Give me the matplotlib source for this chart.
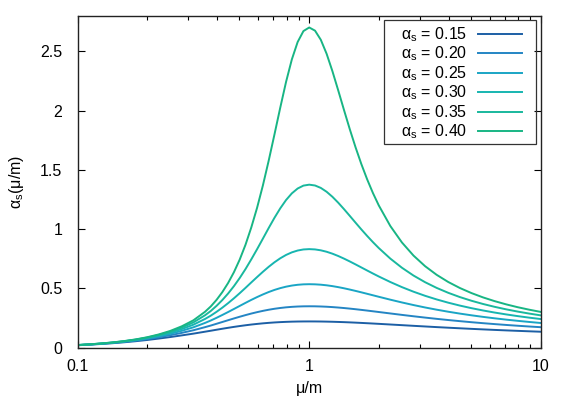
import matplotlib
matplotlib.use("Agg")
import matplotlib.pyplot as plt
from matplotlib.patches import Rectangle

plt.rcParams['font.family'] = ['Liberation Sans', 'DejaVu Sans']
plt.rcParams['mathtext.fontset'] = 'custom'
plt.rcParams['mathtext.rm'] = 'Liberation Sans'

# Data
mu = [0.1000, 0.1122, 0.1259, 0.1413, 0.1585, 0.1778, 0.1995, 0.2239, 0.2512, 0.2818,
      0.3162, 0.3548, 0.3758, 0.3981, 0.4217, 0.4467, 0.4732, 0.5012, 0.5309, 0.5623,
      0.5957, 0.6310, 0.6683, 0.7079, 0.7499, 0.7943, 0.8414, 0.8913, 0.9441, 1.0000,
      1.0593, 1.1220, 1.1885, 1.2589, 1.3335, 1.4125, 1.4962, 1.5849, 1.6788, 1.7783,
      1.8836, 1.9953, 2.2387, 2.5119, 2.8184, 3.1623, 3.5481, 3.9811, 4.4668, 5.0119,
      5.6234, 6.3096, 7.0795, 7.9433, 8.9125, 10.000]

alpha_015 = [0.0193, 0.0241, 0.0298, 0.0364, 0.0442, 0.0532, 0.0636, 0.0756, 0.0885, 0.1026,
             0.1173, 0.1336, 0.1418, 0.1503, 0.1586, 0.1666, 0.1743, 0.1814, 0.1880, 0.1941,
             0.1994, 0.2042, 0.2083, 0.2118, 0.2146, 0.2168, 0.2185, 0.2196, 0.2202, 0.2204,
             0.2202, 0.2197, 0.2188, 0.2176, 0.2161, 0.2144, 0.2124, 0.2102, 0.2078, 0.2053,
             0.2027, 0.2000, 0.1945, 0.1889, 0.1833, 0.1779, 0.1725, 0.1674, 0.1625, 0.1577,
             0.1532, 0.1488, 0.1447, 0.1408, 0.1370, 0.1334]
alpha_020 = [0.0200, 0.0251, 0.0314, 0.0387, 0.0477, 0.0584, 0.0712, 0.0865, 0.1038, 0.1238,
             0.1459, 0.1719, 0.1857, 0.2006, 0.2157, 0.2307, 0.2456, 0.2600, 0.2738, 0.2869,
             0.2988, 0.3096, 0.3191, 0.3273, 0.3340, 0.3395, 0.3435, 0.3463, 0.3479, 0.3484,
             0.3480, 0.3466, 0.3445, 0.3415, 0.3378, 0.3335, 0.3287, 0.3235, 0.3179, 0.3121,
             0.3061, 0.3000, 0.2878, 0.2757, 0.2640, 0.2528, 0.2422, 0.2322, 0.2228, 0.2139,
             0.2057, 0.1979, 0.1907, 0.1839, 0.1775, 0.1716]
alpha_025 = [0.0204, 0.0257, 0.0324, 0.0403, 0.0501, 0.0620, 0.0766, 0.0946, 0.1158, 0.1413,
             0.1708, 0.2076, 0.2281, 0.2509, 0.2750, 0.2999, 0.3255, 0.3514, 0.3771, 0.4023,
             0.4261, 0.4483, 0.4686, 0.4865, 0.5016, 0.5139, 0.5233, 0.5298, 0.5336, 0.5348,
             0.5337, 0.5306, 0.5255, 0.5186, 0.5101, 0.5004, 0.4896, 0.4781, 0.4661, 0.4537,
             0.4412, 0.4287, 0.4041, 0.3807, 0.3587, 0.3383, 0.3196, 0.3024, 0.2866, 0.2722,
             0.2589, 0.2468, 0.2356, 0.2254, 0.2159, 0.2071]
alpha_030 = [0.0207, 0.0262, 0.0331, 0.0414, 0.0518, 0.0647, 0.0808, 0.1010, 0.1255, 0.1560,
             0.1928, 0.2409, 0.2690, 0.3014, 0.3367, 0.3749, 0.4158, 0.4589, 0.5038, 0.5498,
             0.5952, 0.6395, 0.6815, 0.7199, 0.7536, 0.7818, 0.8037, 0.8191, 0.8282, 0.8310,
             0.8285, 0.8209, 0.8088, 0.7926, 0.7730, 0.7509, 0.7270, 0.7019, 0.6762, 0.6504,
             0.6250, 0.6002, 0.5532, 0.5102, 0.4715, 0.4369, 0.4061, 0.3787, 0.3543, 0.3325,
             0.3130, 0.2954, 0.2796, 0.2652, 0.2522, 0.2403]
alpha_035 = [0.0209, 0.0265, 0.0337, 0.0423, 0.0531, 0.0667, 0.0840, 0.1061, 0.1334, 0.1685,
             0.2122, 0.2721, 0.3085, 0.3519, 0.4010, 0.4564, 0.5184, 0.5872, 0.6627, 0.7446,
             0.8306, 0.9195, 1.0090, 1.0955, 1.1755, 1.2455, 1.3019, 1.3428, 1.3674, 1.3753,
             1.3684, 1.3479, 1.3154, 1.2731, 1.2234, 1.1689, 1.1119, 1.0542, 0.9973, 0.9423,
             0.8899, 0.8404, 0.7510, 0.6739, 0.6079, 0.5517, 0.5035, 0.4621, 0.4262, 0.3951,
             0.3678, 0.3438, 0.3225, 0.3035, 0.2866, 0.2713]
alpha_040 = [0.0210, 0.0267, 0.0341, 0.0429, 0.0542, 0.0683, 0.0866, 0.1103, 0.1401, 0.1793,
             0.2296, 0.3014, 0.3467, 0.4024, 0.4680, 0.5453, 0.6362, 0.7429, 0.8681, 1.0142,
             1.1806, 1.3689, 1.5773, 1.7995, 2.0259, 2.2432, 2.4331, 2.5800, 2.6724, 2.7027,
             2.6759, 2.5988, 2.4808, 2.3343, 2.1725, 2.0064, 1.8440, 1.6906, 1.5489, 1.4203,
             1.3045, 1.2008, 1.0262, 0.8874, 0.7765, 0.6870, 0.6139, 0.5534, 0.5028, 0.4600,
             0.4234, 0.3919, 0.3645, 0.3404, 0.3193, 0.3004]

series = [alpha_015, alpha_020, alpha_025, alpha_030, alpha_035, alpha_040]
labels = ['0.15', '0.20', '0.25', '0.30', '0.35', '0.40']
colors = ['#1c5fa5', '#2485c4', '#1aa5c5', '#17b5b0', '#19b89d', '#18b584']

fig, ax = plt.subplots(figsize=(5.7, 3.99), dpi=100)
fig.subplots_adjust(left=0.136, right=0.949, top=0.96, bottom=0.129)

for vals, lab, col in zip(series, labels, colors):
    ax.plot(mu, vals, color=col, lw=1.4, label='α$_\\mathregular{s}$ = ' + lab)

ax.set_xscale('log')
ax.set_xlim(0.1, 10)
ax.set_ylim(0, 2.8)
ax.set_xticks([0.1, 1, 10])
ax.set_xticklabels(['0.1', '1', '10'])
ax.set_yticks([0, 0.5, 1, 1.5, 2, 2.5])
ax.set_yticklabels(['0', '0.5', '1', '1.5', '2', '2.5'])

ax.tick_params(which='both', direction='in', top=True, right=True, labelsize=11.5)
ax.tick_params(axis='x', pad=8)
ax.tick_params(axis='y', pad=11)
ax.tick_params(which='major', length=5, width=0.8)
ax.tick_params(which='minor', length=3, width=0.8)
for sp in ax.spines.values():
    sp.set_linewidth(1.0)
    sp.set_color('#222222')

ax.set_xlabel('μ/m', fontsize=11.5, labelpad=5)
ax.set_ylabel('α$_\\mathregular{s}$(μ/m)', fontsize=11.5, labelpad=10)

# legend: gnuplot-like box with text first, sample line after
ax.add_patch(Rectangle((0.661, 0.615), 0.328, 0.374, transform=ax.transAxes,
                       fill=False, edgecolor='#333333', lw=0.9, zorder=5))
ax.legend(loc='upper right', bbox_to_anchor=(0.959, 0.972), fontsize=11.5,
          markerfirst=False, frameon=False, handlelength=2.75, handletextpad=0.7,
          labelspacing=0.05, borderpad=0, borderaxespad=0)

plt.savefig('out.png', dpi=100)
